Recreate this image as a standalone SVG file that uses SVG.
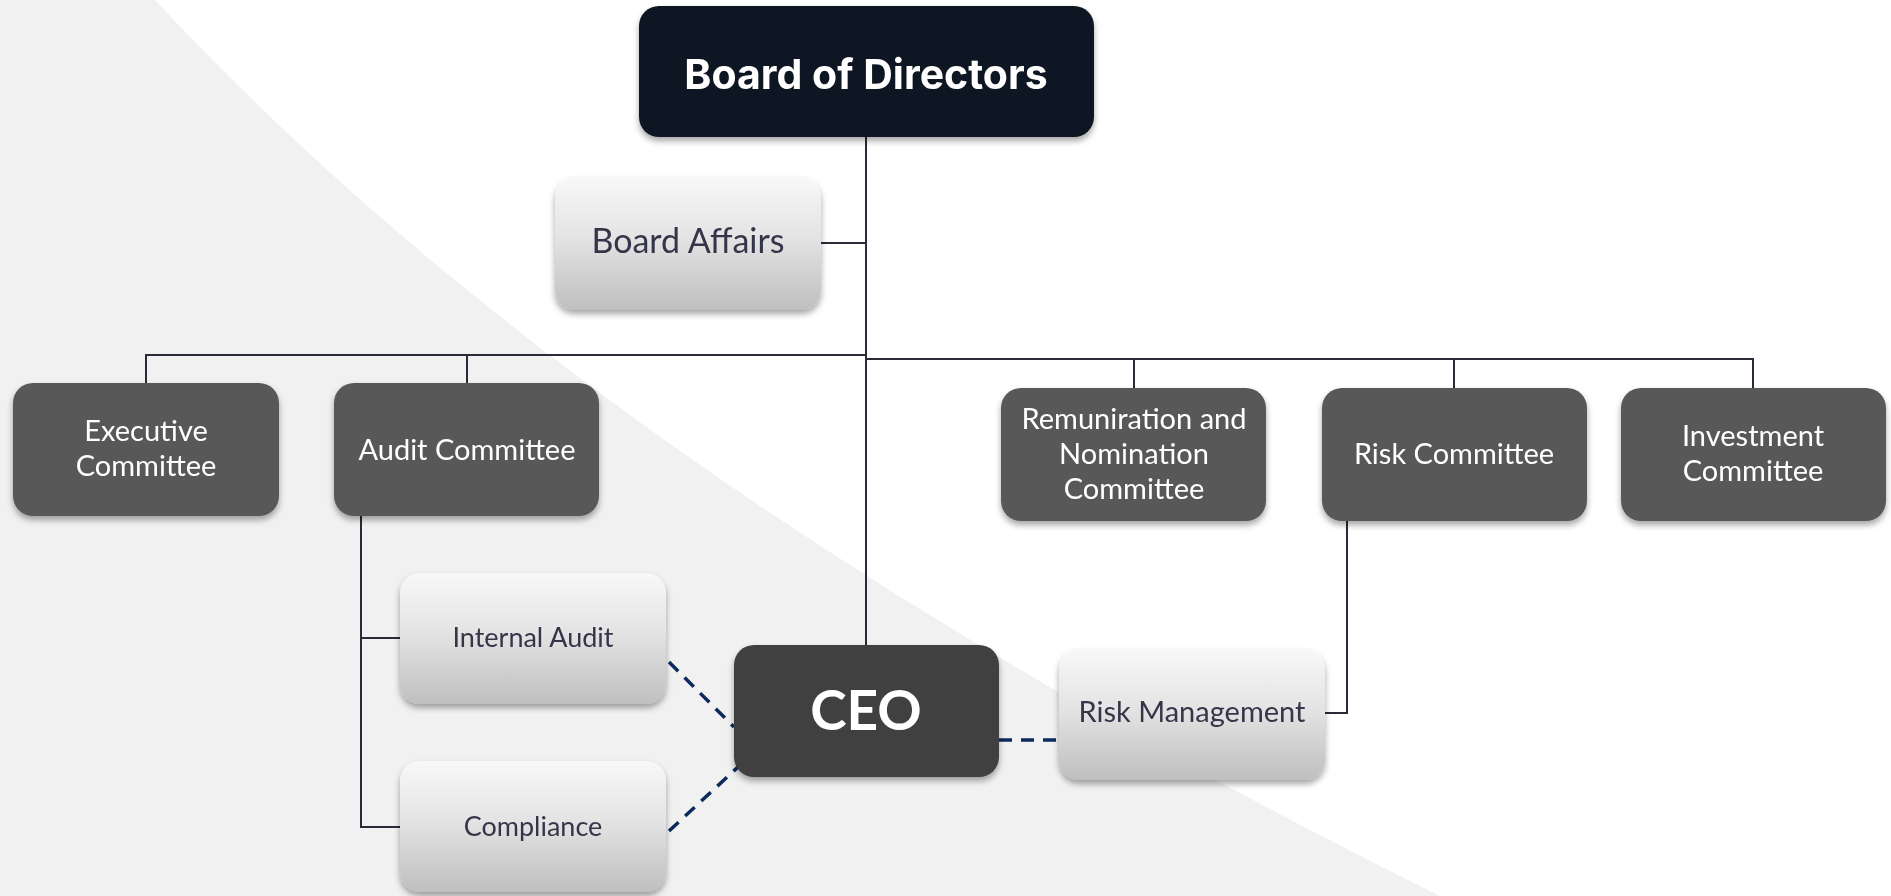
<svg xmlns="http://www.w3.org/2000/svg" width="1891" height="896" viewBox="0 0 1891 896">
<defs>
<style>
.ln{fill:none;stroke:#2a2a38;stroke-width:2}
.dl{fill:none;stroke:#0d2a5c;stroke-width:3.5;stroke-dasharray:13 9}
.dark{fill:#595959}
.light{fill:url(#lg)}
.wt{font-family:Lato,"Open Sans",sans-serif;fill:#ffffff;font-size:29px;text-anchor:middle}
.gt{font-family:Lato,"Open Sans",sans-serif;fill:#36364a;text-anchor:middle}
</style>
<linearGradient id="lg" x1="0" y1="0" x2="0" y2="1">
<stop offset="0" stop-color="#f8f8f8"/>
<stop offset="0.45" stop-color="#e4e4e4"/>
<stop offset="1" stop-color="#bfbfbf"/>
</linearGradient>
<filter id="sh" x="-10%" y="-10%" width="120%" height="130%">
<feDropShadow dx="0" dy="4" stdDeviation="3" flood-color="#000" flood-opacity="0.35"/>
</filter>
</defs>
<rect x="0" y="0" width="1891" height="896" fill="#ffffff"/>
<path d="M0,0 L155,0 Q600,480 1440,896 L0,896 Z" fill="#f1f1f1"/>
<g id="connectors">
<path class="ln" d="M866,137 V645"/>
<path class="ln" d="M821,243 H866"/>
<path class="ln" d="M146,383 V355 H866"/>
<path class="ln" d="M467,355 V383"/>
<path class="ln" d="M866,359 H1753 V388"/>
<path class="ln" d="M1134,359 V388"/>
<path class="ln" d="M1454,359 V388"/>
<path class="ln" d="M361,516 V827 H400"/>
<path class="ln" d="M361,638 H400"/>
<path class="ln" d="M1347,521 V713 H1325"/>
<path class="dl" d="M669,662 L734,727"/>
<path class="dl" d="M669,831 L738,767"/>
<path class="dl" d="M999,740 H1060"/>
</g>
<g id="board" filter="url(#sh)">
<rect x="639" y="6" width="455" height="131" rx="20" fill="#111820"/>
<text x="866" y="89" font-family="Inter,Roboto,sans-serif" font-weight="700" font-size="41" fill="#ffffff" text-anchor="middle">Board of Directors</text>
</g>
<g id="board-affairs" filter="url(#sh)">
<rect class="light" x="555" y="177" width="266" height="133" rx="20"/>
<text class="gt" x="688" y="253" font-size="34">Board Affairs</text>
</g>
<g id="executive" filter="url(#sh)">
<rect class="dark" x="13" y="383" width="266" height="133" rx="20"/>
<text class="wt" x="146" y="441">Executive</text>
<text class="wt" x="146" y="476">Committee</text>
</g>
<g id="audit" filter="url(#sh)">
<rect class="dark" x="334" y="383" width="265" height="133" rx="20"/>
<text class="wt" x="467" y="460">Audit Committee</text>
</g>
<g id="remuneration" filter="url(#sh)">
<rect class="dark" x="1001" y="388" width="265" height="133" rx="20"/>
<text class="wt" x="1134" y="429">Remuniration and</text>
<text class="wt" x="1134" y="464">Nomination</text>
<text class="wt" x="1134" y="499">Committee</text>
</g>
<g id="risk-committee" filter="url(#sh)">
<rect class="dark" x="1322" y="388" width="265" height="133" rx="20"/>
<text class="wt" x="1454" y="464">Risk Committee</text>
</g>
<g id="investment" filter="url(#sh)">
<rect class="dark" x="1621" y="388" width="265" height="133" rx="20"/>
<text class="wt" x="1753" y="446">Investment</text>
<text class="wt" x="1753" y="481">Committee</text>
</g>
<g id="internal-audit" filter="url(#sh)">
<rect class="light" x="400" y="573" width="266" height="131" rx="20"/>
<text class="gt" x="533" y="647" font-size="27">Internal Audit</text>
</g>
<g id="compliance" filter="url(#sh)">
<rect class="light" x="400" y="761" width="266" height="131" rx="20"/>
<text class="gt" x="533" y="836" font-size="27">Compliance</text>
</g>
<g id="ceo" filter="url(#sh)">
<rect x="734" y="645" width="265" height="132" rx="20" fill="#404040"/>
<text x="866" y="730" font-family="Lato,'Open Sans',sans-serif" font-weight="700" font-size="55" fill="#ffffff" text-anchor="middle">CEO</text>
</g>
<g id="risk-management" filter="url(#sh)">
<rect class="light" x="1059" y="649" width="266" height="131" rx="20"/>
<text class="gt" x="1192" y="722" font-size="29">Risk Management</text>
</g>
</svg>
